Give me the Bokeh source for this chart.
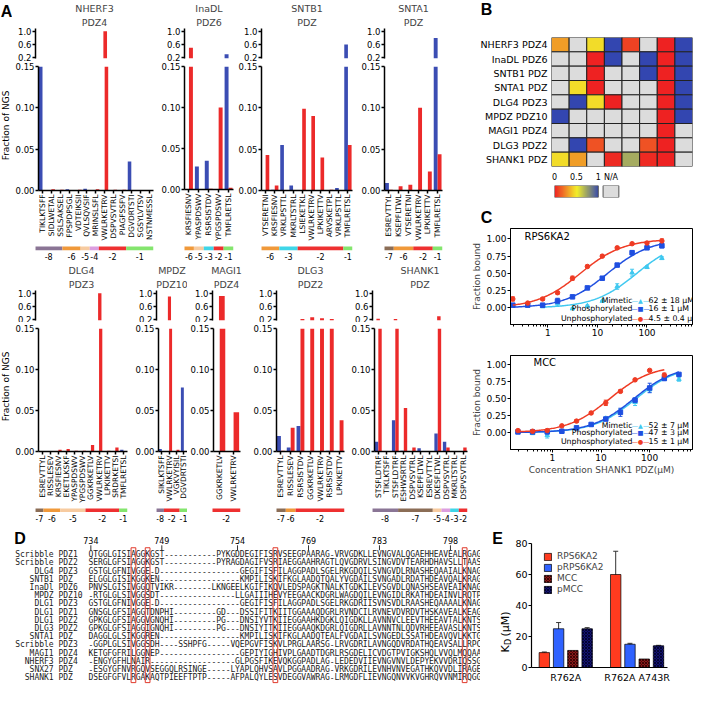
import math
import numpy as np
from bokeh.plotting import figure
from bokeh.models import (Range1d, FixedTicker, Label, ColumnDataSource, Spacer,
                          LinearColorMapper, Whisker, TeeHead, NumeralTickFormatter,
                          LogTickFormatter, Legend, LegendItem, Title)
from bokeh.layouts import row, column
from bokeh.transform import dodge
from bokeh.core.properties import value
from bokeh.embed import file_html
from bokeh.resources import INLINE

# ======================= DATA =======================
# ---- Panel A: fraction of NGS reads per peptide (blue / red series)
nherf3_peps = ["TIKLKTSFF", "SIDLWETAL", "SSLSAKSEL", "FPSPDPSGL", "VDTEIKSII", "QVLSQVSIF",
               "MRINSLSFL", "VWLRKETRV", "DSPVSVTRL", "PIAGFSSFV", "DGVDRTSTI", "SGSYLVTSV", "NSTNMESSL"]
nherf3_pos = [-8, -8, -8, -6, -6, -5, -4, -2, -2, -2, -1, -1, -1]
nherf3_blue = [0.17, 0, 0, 0.0015, 0, 0.002, 0, 0, 0, 0, 0.035, 0.0005, 0.0005]
nherf3_red = [0, 0.0015, 0.001, 0, 0.001, 0, 0.0015, 1.0, 0.001, 0.001, 0, 0, 0.0005]

inadl_peps = ["KRSFIESNV", "YPASPDSWV", "RSRSISTDV", "YPGSPDSWV", "TMFLRETSL"]
inadl_pos = [-6, -5, -3, -2, -1]
inadl_blue = [0, 0.028, 0.035, 0, 0.3]
inadl_red = [0.5, 0, 0.001, 0.1, 0.002]

sntb1_peps = ["VTSERETNI", "KRSFIESNV", "VRKLPSTTL", "MKRLTSTRL", "LSIEKETKL", "VWLRKETRV",
              "LPKIKETTV", "ARVSKETPL", "VRKLPSTTL", "TMFLRETSL"]
sntb1_pos = [-6, -6, -3, -3, -2, -2, -2, -2, -2, -1]
sntb1_blue = [0, 0.001, 0.055, 0.006, 0, 0, 0, 0, 0.003, 0.6]
sntb1_red = [0.043, 0.006, 0, 0, 0.099, 0.09, 0.04, 0.001, 0, 0.055]

snta1_peps = ["ESREVTTYL", "KSEPFLTWL", "VTSERETNI", "VWLRKETRV", "LPKIKETTV", "TMFLRETSL"]
snta1_pos = [-7, -6, -6, -2, -2, -1]
snta1_blue = [0.009, 0, 0, 0, 0, 0.8]
snta1_red = [0.001, 0.005, 0.007, 0.1, 0.023, 0.044]

dlg4_peps = ["ESREVTTYL", "RISSLESEV", "KRSFIESNV", "EKETLKSKF", "YPASPDSWV", "YPGSPDSWV",
             "GGKRKETLV", "VWLRKETRV", "LPKIKETTV", "SRDRKETSI", "TMFLRETSL"]
dlg4_pos = [-7, -6, -6, -5, -5, -5, -2, -2, -2, -2, -1]
dlg4_blue = [0.0005, 0.0005, 0, 0, 0, 0, 0, 0, 0, 0, 0.002]
dlg4_red = [0, 0, 0.002, 0.003, 0.001, 0.001, 0.008, 1.0, 0.001, 0.005, 0]

mpdz_peps = ["SIKLKTSFF", "VWLRKETRV", "VGKVYISIL", "DGVDRTSTI"]
mpdz_pos = [-8, -2, -2, -1]
mpdz_blue = [0.003, 0, 0, 0.078]
mpdz_red = [0, 0.9, 0.002, 0]

magi1_peps = ["GGKRKETLV", "VWLRKETRV"]
magi1_pos = [-2, -2]
magi1_blue = [0, 0]
magi1_red = [0.92, 0.048]

dlg3_peps = ["ESREVTTYL", "RISSLESEV", "RSRSISTDV", "GGKRKETLV", "VWLRKETRV", "RSRSISTDV", "LPKIKETTV"]
dlg3_pos = [-7, -6, -2, -2, -2, -2, -2]
dlg3_blue = [0.019, 0.005, 0.031, 0, 0, 0.001, 0]
dlg3_red = [0.001, 0.029, 0.215, 0.27, 0.24, 0.215, 0.038]

shank1_peps = ["STSFLDTRF", "TIKLKTSFF", "STSFLDTRF", "ESHWSRTRL", "DSPVSVTRL", "KSEPFLTWL",
               "ESREVTTYL", "DKESFLTWL", "DSPVSVTRL", "MKRLTSTRL", "DSPVSVTRL"]
shank1_pos = [-8, -8, -8, -7, -7, -7, -7, -5, -4, -3, -2]
shank1_blue = [0.012, 0, 0.038, 0.001, 0, 0.004, 0, 0.022, 0.012, 0, 0]
shank1_red = [0.225, 0, 0.22, 0.053, 0.005, 0, 0, 0.3, 0.005, 0, 0.005]

# ---- Panel B: heat map (NaN = N/A)
nan = float("nan")
heat_rows = ["NHERF3 PDZ4", "InaDL PDZ6", "SNTB1 PDZ", "SNTA1 PDZ", "DLG4 PDZ3",
             "MPDZ PDZ10", "MAGI1 PDZ4", "DLG3 PDZ2", "SHANK1 PDZ"]
heat_vals = [
    [0.3, nan, 0.45, 1, 0.08, nan, 0, 1],
    [nan, nan, 0, 1, nan, 1, 0, 1],
    [nan, nan, 0, nan, nan, 1, 0, 1],
    [nan, 0.45, 0, nan, nan, nan, 0, 1],
    [nan, 1, 0.45, 0, nan, nan, 0, 1],
    [1, nan, nan, nan, nan, nan, 0, 1],
    [nan, nan, nan, nan, nan, nan, 0, nan],
    [nan, 1, 0.12, nan, nan, 0.12, 0, nan],
    [0.45, 0.3, nan, 0.02, 0.7, 0.02, 0, nan],
]

# ---- Panel C: binding curves
rps_conc = [0.195, 0.39, 0.78, 1.56, 3.125, 6.25, 12.5, 25, 50, 100, 200]
rps_unphos = [0.13, 0.07, 0.13, 0.22, 0.43, 0.60, 0.75, 0.87, 0.93, 0.94, 0.97]
rps_unphos_err = [0.03, 0.01, 0.02, 0.02, 0.03, 0.02, 0.02, 0.02, 0.01, 0.01, 0.03]
rps_phos = [0.04, 0.04, 0.04, 0.10, 0.16, 0.29, 0.43, 0.62, 0.80, 0.87, 0.90]
rps_phos_err = [0.02, 0.01, 0.01, 0.04, 0.01, 0.01, 0.01, 0.02, 0.03, 0.02, 0.03]
rps_mim_conc = [0.78, 1.56, 3.125, 6.25, 12.5, 25, 50, 100, 200]
rps_mim = [0.02, 0.07, -0.01, 0.03, 0.10, 0.31, 0.51, 0.59, 0.72]
rps_mim_err = [0.01, 0.04, 0.01, 0.01, 0.01, 0.04, 0.05, 0.02, 0.02]
rps_kd = [62, 16, 4.5]          # mimetic, phosphorylated, unphosphorylated
rps_kd_err = [18, 1, 0.4]

mcc_conc = [0.195, 0.39, 0.78, 1.56, 3.125, 6.25, 12.5, 25, 50, 100, 200, 400]
mcc_unphos = [0.03, 0.02, 0.03, 0.10, 0.17, 0.29, 0.44, 0.61, 0.78, 0.92, 0.85]
mcc_unphos_err = [0.01, 0.01, 0.01, 0.01, 0.02, 0.02, 0.04, 0.02, 0.02, 0.01, 0.03]
mcc_phos = [0.01, 0.01, 0.01, 0.02, 0.07, 0.12, 0.20, 0.30, 0.48, 0.66, 0.80, 0.86]
mcc_phos_err = [0.01, 0.01, 0.01, 0.01, 0.01, 0.01, 0.02, 0.06, 0.03, 0.07, 0.03, 0.02]
mcc_mim = [0.01, -0.01, -0.04, 0.02, 0.06, 0.11, 0.21, 0.31, 0.45, 0.64, 0.80, 0.79]
mcc_mim_err = [0.01, 0.02, 0.04, 0.01, 0.01, 0.01, 0.02, 0.04, 0.05, 0.04, 0.03, 0.03]
mcc_kd = [52, 47, 15]
mcc_kd_err = [7, 3, 1]

# ---- Panel D: alignment
aln_names = ["Scribble PDZ1", "Scribble PDZ2", "DLG4 PDZ3", "SNTB1 PDZ", "InaDl PDZ6", "MPDZ PDZ10",
             "DLG1 PDZ3", "DLG1 PDZ1", "DLG1 PDZ2", "DLG3 PDZ2", "SNTA1 PDZ", "Scribble PDZ3",
             "MAGI1 PDZ4", "NHERF3 PDZ4", "SNX27 PDZ", "SHANK1 PDZ"]
aln_seqs = [
    "QTGGLGISIAGGKGST-----------PYKGDDEGIFISRVSEEGPAARAG-VRVGDKLLEVNGVALQGAEHHEAVEALRGAG",
    "SERGLGFSIAGGKGST-----------PYRAGDAGIFVSRIAEGGAAHRAGTLQVGDRVLSINGVDVTEARHDHAVSLLTAAS",
    "GSTGLGFNIVGGE-D-----------------GEGIFISFILAGGPADLSGELRKGDQILSVNGVDLRNASHEQAAIALKNAG",
    "ELGGLGISIKGGKEN-----------------KMPILISKIFKGLAADQTQALYVGDAILSVNGADLRDATHDEAVQALKRAG",
    "PNVSLGISIVGGQTVIKR--------LKNGEELKGIFIKQVLEDSPAGKTNALKTGDKILEVSGVDLQNASHSEAVEAIKNAG",
    "-RTGLGLSIVGGSDT----------------LLGAIIIHEVYEEGAACKDGRLWAGDQILEVNGIDLRKATHDEAINVLRQTP",
    "GSTGLGFNIVGGE-D-----------------GEGIFISFILAGGPADLSGELRKGDRIISVNSVDLRAASHEQAAAALKNAG",
    "GNSGLGFSIAGGTDNPHI---------GD---DSSIFITKIITGGAAAQDGRLRVNDCILRVNEVDVRDVTHSKAVEALKEAG",
    "GPKGLGFSIAGGVGNQHI---------PG---DNSIYVTKIIEGGAAHKDGKLQIGDKLLAVNNVCLEEVTHEEAVTALKNTS",
    "GPKGLGFSIAGGIGNQHI---------PG---DNSIYITKIIEGGAAQKDGRLQIGDRLLAVNNTNLQDVRHEEAVASLKNTS",
    "DAGGLGLSIKGGREN-----------------KMPILISKIFKGLAADQTEALFVGDAILSVNGEDLSSATHDEAVQVLKKTG",
    "-GGPLGLSIVGGSDH----SSHPFG-----VQEPGVFISKVLPRGLAARSG-LRVGDRILAVNGQDVRDATHQEAVSALLRPC",
    "KETGFGFRILGGNEP-----------------GEPIYIGHIVPLGAADTDGRLRSGDELICVDGTPVIGKSHQLVVQLMQQAA",
    "-ENGYGFHLNAIR------------------GLPGSFIKEVQKGGPADLAG-LEDEDVIIEVNGVNVLDEPYEKVVDRIQSSG",
    "-ESGYGFNVRGQVSEGGQLRSINGE-----LYAPLQHVSAVLPGGAADRAG-VRKGDRILEVNHVNVEGATHKQVVDLIRAGE",
    "DSEGFGFVLRGAKAQTPIEEFTPTP-----AFPALQYLESVDEGGVAWRAG-LRMGDFLIEVNGQNVVKVGHRQVVNMIRQGG",
]
aln_start_residue = 734
ruler_labels = [734, 749, 754, 769, 783, 798]
boxed_columns = [9, 12, 39, 79]

# ---- Panel E: KD values
e_groups = ["R762A", "R762A A743R"]
e_series = ["RPS6KA2", "pRPS6KA2", "MCC", "pMCC"]
e_kd = [[9.6, 60], [25, 15], [11, 5.5], [25, 14]]
e_err = [[0.4, 15], [4, 0.6], [0, 0], [0.7, 0.3]]

# ======================= STYLE / LAYOUT =======================
S = 0.977


def px(v):
    return int(round(v * S))


FONT = "DejaVu Sans"
MONO = "DejaVu Sans Mono"
BOLDF = "Liberation Sans"
BLUE = "#3b4db3"
RED = "#ec2a2a"
NA_GRAY = "#dcdcdc"
POS_COLORS = {-8: "#8a7595", -7: "#8b6d56", -6: "#f0993a", -5: "#f7cba0",
              -4: "#dc9ee0", -3: "#3fd6e8", -2: "#ee3030", -1: "#84e56e"}


def new_fig(w, h, bl, br, bt, bb, **kw):
    p = figure(width=w, height=h, output_backend="svg", toolbar_location=None, min_border=0, **kw)
    p.min_border_left = bl
    p.min_border_right = br
    p.min_border_top = bt
    p.min_border_bottom = bb
    p.outline_line_color = None
    p.grid.grid_line_color = None
    p.background_fill_color = "white"
    p.border_fill_color = "white"
    if "frame_align" in p.properties():
        p.frame_align = False
    return p


def text_fig(w, h, texts):
    """A blank figure whose frame is the whole canvas, used to hold free text."""
    p = new_fig(w, h, 0, 0, 0, 0, x_range=Range1d(0, w), y_range=Range1d(h, 0),
                x_axis_location=None, y_axis_location=None)
    for (x, y, t, size, bold, angle, align) in texts:
        p.text(x=[x], y=[y], text=[t], text_font=value(BOLDF if bold else FONT), text_font_size=size,
               text_font_style="bold" if bold else "normal", angle=angle, text_align=align,
               text_baseline="middle", text_color="black")
    return p


def style_axes(axes, size="9px", lw=1.0):
    for ax in axes:
        ax.axis_line_color = "black"
        ax.axis_line_width = lw
        ax.major_tick_line_color = "black"
        ax.major_tick_line_width = lw
        ax.major_tick_out = 3
        ax.major_tick_in = 0
        ax.minor_tick_line_color = None
        ax.major_label_text_font = FONT
        ax.major_label_text_font_size = size
        ax.major_label_text_color = "black"
        ax.major_label_standoff = 1
        ax.axis_label_text_font = FONT
        ax.axis_label_text_font_style = "normal"
        ax.axis_label_text_font_size = size
        ax.axis_label_standoff = 1


def add_label(p, txt, x, y, size="9px", align="center", color="black"):
    p.add_layout(Label(x=x, y=y, x_units="screen", y_units="screen", text=txt,
                       text_font=FONT, text_font_size=size, text_align=align,
                       text_baseline="middle", text_color=color))


def panel_a(t1, t2, peps, pos, blue, red, xr, vr):
    start, axis, right, end = xr
    a, tft, tfb, tb, bft, bfb, bbot, cb_ = vr
    w = px(end) - px(start)
    bl = px(axis) - px(start)
    br = px(end) - px(right)
    n = len(peps)
    xrng = Range1d(-0.45, n - 0.5)
    lo = 0.171
    src = ColumnDataSource(dict(x=list(range(n)), blue=blue, red=red))
    src_top = ColumnDataSource(dict(x=list(range(n)),
                                    blue=np.array([v if v > lo else nan for v in blue]),
                                    red=np.array([v if v > lo else nan for v in red])))
    top = new_fig(w, px(tb) - px(a), bl, br, px(tft) - px(a), px(tb) - px(tfb),
                  x_range=xrng, y_range=Range1d(lo, 1.086), x_axis_location=None)
    bot = new_fig(w, px(bbot) - px(tb), bl, br, px(bft) - px(tb), px(bbot) - px(bfb),
                  x_range=xrng, y_range=Range1d(0, 0.15))
    band = new_fig(w, px(cb_) - px(bbot), bl, br, 0, 0, x_range=xrng, y_range=Range1d(0, 1),
                   x_axis_location=None, y_axis_location=None)
    for p, s in ((top, src_top), (bot, src)):
        p.vbar(x=dodge("x", -0.2), top="blue", width=0.4, source=s, fill_color=BLUE, line_color=None)
        p.vbar(x=dodge("x", 0.2), top="red", width=0.4, source=s, fill_color=RED, line_color=None)
        style_axes(p.axis, "8.5px", 1.5)
    top.yaxis.ticker = FixedTicker(ticks=[0.2, 0.6, 1.0])
    top.yaxis.formatter = NumeralTickFormatter(format="0.0")
    bot.yaxis.ticker = FixedTicker(ticks=[0, 0.05, 0.10, 0.15])
    bot.yaxis.formatter = NumeralTickFormatter(format="0.00")
    bot.xaxis.ticker = FixedTicker(ticks=list(range(n)))
    bot.xaxis.major_label_overrides = {i: s for i, s in enumerate(peps)}
    bot.xaxis.major_label_orientation = math.pi / 2
    bot.xaxis.major_label_text_font_size = "7.5px"
    top.add_layout(Title(text=t2, align="center", text_font=FONT, text_font_size="9.5px",
                         text_font_style="normal", standoff=1), "above")
    top.add_layout(Title(text=t1, align="center", text_font=FONT, text_font_size="9.5px",
                         text_font_style="normal", standoff=1), "above")
    segs = []
    i = 0
    while i < n:
        j = i
        while j + 1 < n and pos[j + 1] == pos[i]:
            j += 1
        segs.append((i, j, pos[i]))
        i = j + 1
    band.quad(left=[s[0] - 0.5 for s in segs], right=[s[1] + 0.5 for s in segs],
              bottom=0.64, top=0.84, fill_color=[POS_COLORS[s[2]] for s in segs], line_color=None)
    band.text(x=[(s[0] + s[1]) / 2 for s in segs], y=0.3, text=[str(s[2]) for s in segs],
              text_font=value(FONT), text_font_size="8px", text_align="center", text_baseline="middle")
    return column(top, bot, band)


TOP_V = (0, 27, 59, 62, 68, 194, 249, 268)
BOT_V = (268, 296, 328, 330, 336, 462, 517, 535)

a_top = row(
    panel_a("NHERF3", "PDZ4", nherf3_peps, nherf3_pos, nherf3_blue, nherf3_red, (12, 36, 157, 162), TOP_V),
    panel_a("InaDL", "PDZ6", inadl_peps, inadl_pos, inadl_blue, inadl_red, (162, 188, 238, 241), TOP_V),
    panel_a("SNTB1", "PDZ", sntb1_peps, sntb1_pos, sntb1_blue, sntb1_red, (241, 267, 360, 366), TOP_V),
    panel_a("SNTA1", "PDZ", snta1_peps, snta1_pos, snta1_blue, snta1_red, (366, 393, 452, 458), TOP_V),
    Spacer(width=px(480) - px(458), height=px(268)),
)
a_bot = row(
    panel_a("DLG4", "PDZ3", dlg4_peps, dlg4_pos, dlg4_blue, dlg4_red, (12, 36, 130, 135), BOT_V),
    panel_a("MPDZ", "PDZ10", mpdz_peps, mpdz_pos, mpdz_blue, mpdz_red, (135, 160, 191, 191), BOT_V),
    panel_a("MAGI1", "PDZ4", magi1_peps, magi1_pos, magi1_blue, magi1_red, (191, 217, 246, 250), BOT_V),
    panel_a("DLG3", "PDZ2", dlg3_peps, dlg3_pos, dlg3_blue, dlg3_red, (250, 283, 352, 356), BOT_V),
    panel_a("SHANK1", "PDZ", shank1_peps, shank1_pos, shank1_blue, shank1_red, (356, 381, 478, 480), BOT_V),
)
strip_a = text_fig(px(12), px(535), [
    (px(6.5), px(11), "A", "16px", True, 0, "center"),
    (px(5), px(128), "Fraction of NGS", "9px", False, math.pi / 2, "center"),
    (px(5), px(395), "Fraction of NGS", "9px", False, math.pi / 2, "center"),
])
left_col = row(strip_a, column(a_top, a_bot))

# ---------------- Panel B ----------------
RW = 693 - px(480)


def lerp_hex(c1, c2, t):
    a = [int(c1[k:k + 2], 16) for k in (1, 3, 5)]
    b = [int(c2[k:k + 2], 16) for k in (1, 3, 5)]
    return "#%02x%02x%02x" % tuple(int(round(a[k] + (b[k] - a[k]) * t)) for k in range(3))


PAL = [lerp_hex("#ee2222", "#f2ef2a", k / 127) for k in range(128)] + \
      [lerp_hex("#f2ef2a", "#3346b0", k / 127) for k in range(128)]
mapper = LinearColorMapper(palette=PAL, low=0, high=1, nan_color=NA_GRAY)

b_letter = text_fig(RW, px(20), [(px(497 - 480), px(9), "B", "16px", True, 0, "center")])
heat = new_fig(RW, px(173) - px(20), px(564) - px(480), RW - (px(708) - px(480)), px(38) - px(20),
               px(173) - px(170), x_range=Range1d(-0.5, 7.5), y_range=Range1d(8.5, -0.5),
               x_axis_location=None)
hx, hy, hv = [], [], []
for r, rv in enumerate(heat_vals):
    for c, v in enumerate(rv):
        hx.append(c)
        hy.append(r)
        hv.append(v)
hsrc = ColumnDataSource(dict(x=hx, y=hy, v=np.array(hv, dtype=float)))
heat.rect(x="x", y="y", width=1, height=1, source=hsrc,
          fill_color={"field": "v", "transform": mapper}, line_color="#222222", line_width=1)
style_axes(heat.axis, "9.5px")
heat.yaxis.ticker = FixedTicker(ticks=list(range(len(heat_rows))))
heat.yaxis.major_label_overrides = {i: s for i, s in enumerate(heat_rows)}
heat.yaxis.axis_line_color = None
heat.yaxis.major_tick_line_color = None

cb = new_fig(RW, px(205) - px(173), px(567) - px(480), RW - (px(640) - px(480)), px(188) - px(173),
             px(205) - px(202), x_range=Range1d(0, 1.622), y_range=Range1d(0, 1),
             x_axis_location="above", y_axis_location=None)
cb.image(image=[np.linspace(0, 1, 128).reshape(1, -1)], x=0, y=0, dw=1, dh=1, color_mapper=mapper)
cb.quad(left=0, right=1, bottom=0, top=1, fill_color=None, line_color="#555555")
cb.quad(left=1.11, right=1.47, bottom=0, top=1, fill_color=NA_GRAY, line_color="#555555")
style_axes(cb.axis, "8px")
cb.xaxis.ticker = FixedTicker(ticks=[0, 0.5, 1, 1.29])
cb.xaxis.major_label_overrides = {1.29: "N/A"}
cb.xaxis.axis_line_color = None
cb.xaxis.major_tick_line_color = None

# ---------------- Panel C ----------------
C_RED, C_BLUE, C_CYAN = "#ef3b24", "#1f4fe0", "#3fc8f0"


def c_panel(h, bt, bb, xr, yr, series, kds, kd_errs, name, name_xy, legend_rows, xlabel=None):
    p = new_fig(RW, h, px(518) - px(480), RW - (px(708) - px(480)), bt, bb,
                x_axis_type="log", x_range=Range1d(*xr), y_range=Range1d(*yr))
    p.outline_line_color = "black"
    style_axes(p.axis, "9px")
    p.xaxis.minor_tick_line_color = "black"
    p.xaxis.minor_tick_out = 2
    p.xaxis.minor_tick_in = 0
    p.xaxis.formatter = LogTickFormatter(min_exponent=3)
    p.yaxis.ticker = FixedTicker(ticks=[0, 0.25, 0.5, 0.75, 1.0])
    p.yaxis.formatter = NumeralTickFormatter(format="0.00")
    p.yaxis.axis_label = "Fraction bound"
    if xlabel:
        p.xaxis.axis_label = xlabel
    for (conc, ys, errs, color, marker), kd in zip(series, kds):
        fx = np.geomspace(min(conc), max(conc), 120)      # one-site fit curve using the legend KD
        p.line(fx, fx / (kd + fx), line_color=color, line_width=1.5)
        src = ColumnDataSource(dict(x=conc[:len(ys)], y=ys, up=[y + e for y, e in zip(ys, errs)],
                                    lo=[y - e for y, e in zip(ys, errs)]))
        p.add_layout(Whisker(source=src, base="x", upper="up", lower="lo", line_color=color,
                             upper_head=TeeHead(size=4, line_color=color),
                             lower_head=TeeHead(size=4, line_color=color)))
        p.scatter(x="x", y="y", source=src, marker=marker, size=4.5, fill_color=color, line_color=color)
    names = ["Mimetic", "Phosphorylated", "Unphosphorylated"]
    syms = ["\u2014\u25b2\u2014", "\u2014\u25a0\u2014", "\u2014\u25cf\u2014"]
    cols = [C_CYAN, C_BLUE, C_RED]
    for k in range(3):
        yy = px(legend_rows[k])
        add_label(p, names[k], 122, yy, "7.8px", align="right")
        add_label(p, syms[k], 130, yy, "6.3px", color=cols[k])
        add_label(p, "%g \u00b1 %g \u03bcM" % (kds[k], kd_errs[k]), 138, yy, "7.8px", align="left")
    add_label(p, name, px(name_xy[0]), px(name_xy[1]), "10px", align="left")
    return p


c_letter = text_fig(RW, px(233) - px(205), [(px(497 - 480), px(222 - 205), "C", "16px", True, 0, "center")])
c_top = c_panel(px(346) - px(233), 0, px(346) - px(333), (0.175, 830), (-0.24, 1.15),
                [(rps_mim_conc, rps_mim, rps_mim_err, C_CYAN, "triangle"),
                 (rps_conc, rps_phos, rps_phos_err, C_BLUE, "square"),
                 (rps_conc, rps_unphos, rps_unphos_err, C_RED, "circle")],
                rps_kd, rps_kd_err, "RPS6KA2", (14, 90), [25, 16, 6])
c_bot = c_panel(px(488) - px(346), px(363) - px(346), px(488) - px(462), (0.137, 760), (-0.25, 1.14),
                [(mcc_conc, mcc_mim, mcc_mim_err, C_CYAN, "triangle"),
                 (mcc_conc, mcc_phos, mcc_phos_err, C_BLUE, "square"),
                 (mcc_conc[:len(mcc_unphos)], mcc_unphos, mcc_unphos_err, C_RED, "circle")],
                mcc_kd, mcc_kd_err, "MCC", (24, 89), [25, 17, 8],
                xlabel="Concentration SHANK1 PDZ(\u03bcM)")

right_col = column(b_letter, heat, cb, c_letter, c_top, c_bot, Spacer(width=RW, height=px(535) - px(488)))
upper = row(left_col, right_col)

# ---------------- Panel D ----------------
LH = 685 - px(535)
CW = 4.84
RH = 8.4
d = new_fig(px(491), LH, 0, 0, 0, 0,
            x_range=Range1d(-90 / CW, (491 - 90) / CW),
            y_range=Range1d((701 - 567) / RH, (535 - 567) / RH),
            x_axis_location=None, y_axis_location=None)
cx, cy, ct = [], [], []
for r, s in enumerate(aln_seqs):
    for i, ch in enumerate(s):
        cx.append(i + 0.5)
        cy.append(r)
        ct.append(ch)
d.text(x=cx, y=cy, text=ct, text_font=value(MONO), text_font_size="8px", text_align="center",
       text_baseline="middle", text_color="#1a1a1a")
nm = []
for n_ in aln_names:
    prot, dom = n_.split(" ")
    nm.append(("%8s %s" % (prot, dom)).replace(" ", "\u00a0"))
d.text(x=-15.5, y=list(range(len(nm))), text=nm, text_font=value(MONO), text_font_size="8px",
       text_align="left", text_baseline="middle", text_color="#1a1a1a")
idx_of = {}
res = aln_start_residue
for i, ch in enumerate(aln_seqs[0]):
    if ch != "-":
        idx_of[res] = i
        res += 1
rx = [idx_of[r_] + 0.5 for r_ in ruler_labels]
d.text(x=rx, y=-1.75, text=[str(r_) for r_ in ruler_labels], text_font=value(FONT), text_font_size="8px",
       text_align="center", text_baseline="middle")
d.segment(x0=rx, y0=-1.15, x1=rx, y1=-0.55, line_color="#333333", line_width=1)
d.quad(left=boxed_columns, right=[c + 1 for c in boxed_columns], top=-0.85, bottom=15.6,
       fill_color=None, line_color="#e0392b", line_width=1)
d.text(x=[(20 - 90) / CW], y=[(550 - 567) / RH], text=["D"], text_font=value(BOLDF), text_font_size="16px",
       text_font_style="bold", text_align="center", text_baseline="middle")

# ---------------- Panel E ----------------
KW = px(524) - px(491)
kd_strip = text_fig(KW, LH, [
    (px(508 - 491), px(550 - 535), "E", "16px", True, 0, "center"),
    (px(517 - 491), px(667 - 535), "K", "11px", False, math.pi / 2, "left"),
    (px(517 - 491) + 3, px(667 - 535) - 7.5, "D", "8px", False, math.pi / 2, "left"),
    (px(517 - 491), px(667 - 535) - 16, "(\u03bcM)", "11px", False, math.pi / 2, "left"),
])
EW = 693 - px(491) - KW
e = new_fig(EW, LH, px(540) - px(524), EW - (px(683) - px(524)), px(556) - px(535), LH - (px(688) - px(535)),
            x_range=Range1d(0, 9.53), y_range=Range1d(0, 80))
style_axes(e.axis, "9.5px", 1.2)
e_fill = ["#ff3b1f", "#2f62ff", "#8a1a1a", "#141470"]
e_hatch = [None, None, "diagonal_cross", "diagonal_cross"]
e_hcol = ["black", "black", "#2a0000", "#000025"]
items = []
for s, nm_ in enumerate(e_series):
    xs = [5 * g + s + 0.9 for g in range(len(e_groups))]
    src = ColumnDataSource(dict(x=xs, top=e_kd[s]))
    r = e.vbar(x="x", top="top", width=0.73, source=src, fill_color=e_fill[s], line_color="black",
               line_width=0.7, hatch_pattern=e_hatch[s], hatch_color=e_hcol[s], hatch_scale=3,
               hatch_weight=0.8)
    items.append(LegendItem(label=nm_, renderers=[r]))
    wx = [x for x, er in zip(xs, e_err[s]) if er > 0]
    wu = [v + er for v, er in zip(e_kd[s], e_err[s]) if er > 0]
    wl = [v - er for v, er in zip(e_kd[s], e_err[s]) if er > 0]
    if wx:
        wsrc = ColumnDataSource(dict(x=wx, up=wu, lo=wl))
        e.add_layout(Whisker(source=wsrc, base="x", upper="up", lower="lo", line_color="#333333",
                             upper_head=TeeHead(size=5, line_color="#333333"),
                             lower_head=TeeHead(size=5, line_color="#333333")))
leg = Legend(items=items, location=(px(12), px(75)), background_fill_alpha=0, border_line_color=None,
             padding=0, spacing=1, margin=0, glyph_width=9, glyph_height=9, label_height=9,
             label_standoff=5, label_text_font=FONT, label_text_font_size="9px")
e.add_layout(leg)
e.yaxis.ticker = FixedTicker(ticks=[0, 20, 40, 60, 80])
gt = [5 * g + 0.9 + 1.5 for g in range(len(e_groups))]
e.xaxis.ticker = FixedTicker(ticks=gt)
e.xaxis.major_label_overrides = {t: g for t, g in zip(gt, e_groups)}
e.xaxis.major_tick_line_color = None

lower = row(d, kd_strip, e)
page = column(upper, lower)

open("out.html", "w").write(file_html(page, INLINE))
